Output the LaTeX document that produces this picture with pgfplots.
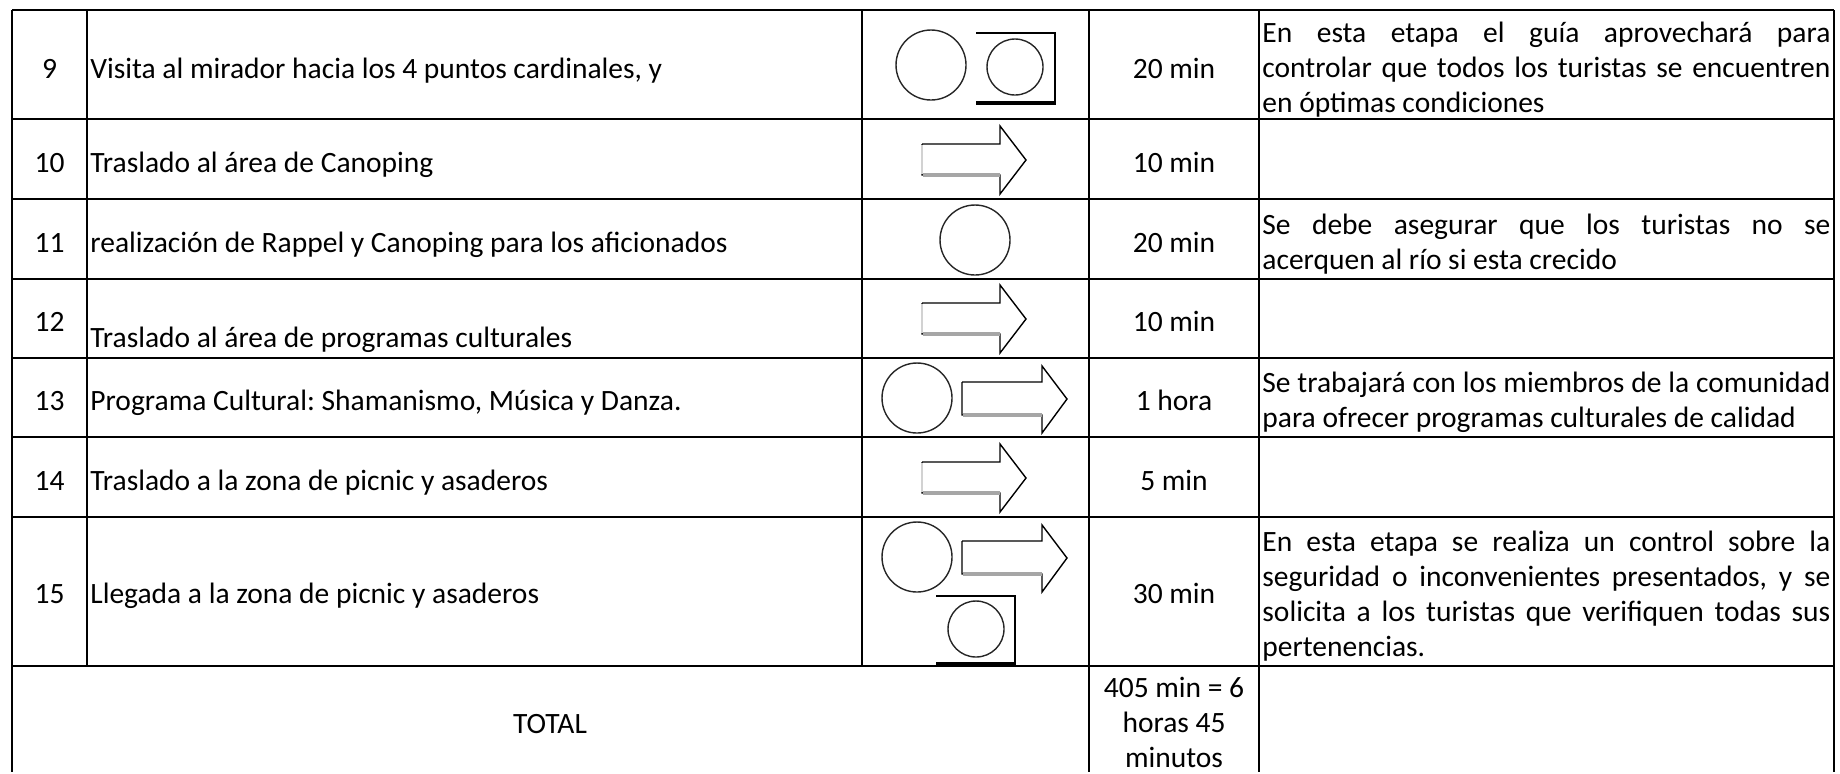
\documentclass[border=0pt]{standalone}
\usepackage{fontspec}
\setmainfont{Carlito}
\usepackage{pgfplots}
\pgfplotsset{compat=1.18}
\frenchspacing
\newcommand{\tf}{\fontsize{14.75pt}{17.5pt}\selectfont\frenchspacing}
\tikzset{t/.style={inner sep=0pt, font=\tf, anchor=base},
         tl/.style={inner sep=0pt, font=\tf, anchor=base west}}
\newcommand{\jl}[1]{\makebox[284pt][s]{#1}}
\begin{document}
\begin{tikzpicture}
\begin{axis}[
  width=920pt, height=386pt, scale only axis,
  xmin=0, xmax=1840, ymin=0, ymax=772, y dir=reverse,
  hide axis, clip=false,
]
% bounding box
\addplot[draw=none, forget plot] coordinates {(0,0) (1840,772)};
% ---------- grid lines ----------
\pgfplotsset{every axis plot/.append style={forget plot}}
\addplot[black, line width=1pt] coordinates {(12,10) (1834,10)};
\addplot[black, line width=1pt] coordinates {(12,119) (1834,119)};
\addplot[black, line width=1pt] coordinates {(12,199) (1834,199)};
\addplot[black, line width=1pt] coordinates {(12,279) (1834,279)};
\addplot[black, line width=1pt] coordinates {(12,358) (1834,358)};
\addplot[black, line width=1pt] coordinates {(12,437) (1834,437)};
\addplot[black, line width=1pt] coordinates {(12,517) (1834,517)};
\addplot[black, line width=1pt] coordinates {(12,666) (1834,666)};
\addplot[black, line width=1pt] coordinates {(12,10) (12,772)};
\addplot[black, line width=1pt] coordinates {(87,10) (87,666)};
\addplot[black, line width=1pt] coordinates {(862,10) (862,666)};
\addplot[black, line width=1pt] coordinates {(1089,10) (1089,772)};
\addplot[black, line width=1pt] coordinates {(1259,10) (1259,772)};
\addplot[black, line width=1pt] coordinates {(1834,10) (1834,772)};
% ---------- circles ----------
\addplot[only marks, mark=o, mark size=17.5pt, mark options={solid, black!85, line width=0.7pt}]
  coordinates {(931,65) (975,240) (917,398) (917,557)};
\addplot[only marks, mark=o, mark size=14pt, mark options={solid, black!85, line width=0.7pt}]
  coordinates {(1015,67) (976,629)};
% ---------- boxes around small circles ----------
\addplot[black, line width=0.8pt] coordinates {(976,33) (1055,33) (1055,103)};
\addplot[black, line width=1.6pt] coordinates {(976,103) (1056,103)};
\addplot[black, line width=0.8pt] coordinates {(936,596) (1015,596) (1015,664)};
\addplot[black, line width=1.6pt] coordinates {(936,664) (1016,664)};
% ---------- arrows (short) ----------
\addplot[black, line width=0.7pt] coordinates {(922,144) (1000,144) (1000,126) (1026,160) (1000,194) (1000,175) (922,175) (922,144)};
\addplot[gray!70, line width=1.6pt] coordinates {(923,175) (1000,175)};
\addplot[gray!35, line width=1pt] coordinates {(922,145) (922,174)};
\addplot[black, line width=0.7pt] coordinates {(922,303) (1000,303) (1000,285) (1026,319) (1000,353) (1000,334) (922,334) (922,303)};
\addplot[gray!70, line width=1.6pt] coordinates {(923,334) (1000,334)};
\addplot[gray!35, line width=1pt] coordinates {(922,304) (922,333)};
\addplot[black, line width=0.7pt] coordinates {(922,462) (1000,462) (1000,444) (1026,478) (1000,512) (1000,493) (922,493) (922,462)};
\addplot[gray!70, line width=1.6pt] coordinates {(923,493) (1000,493)};
\addplot[gray!35, line width=1pt] coordinates {(922,463) (922,492)};
% ---------- arrows (with circle) ----------
\addplot[black, line width=0.7pt] coordinates {(962,382) (1042,382) (1042,366) (1067,399) (1042,433) (1042,415) (962,415) (962,382)};
\addplot[gray!70, line width=1.6pt] coordinates {(963,415) (1042,415)};
\addplot[black, line width=0.7pt] coordinates {(962,541) (1042,541) (1042,525) (1067,558) (1042,592) (1042,574) (962,574) (962,541)};
\addplot[gray!70, line width=1.6pt] coordinates {(963,574) (1042,574)};
% ---------- column 1: numbers ----------
\node[t] at (axis cs:49.5,78) {9};
\node[t] at (axis cs:49.5,172) {10};
\node[t] at (axis cs:49.5,252) {11};
\node[t] at (axis cs:49.5,331) {12};
\node[t] at (axis cs:49.5,410) {13};
\node[t] at (axis cs:49.5,490) {14};
\node[t] at (axis cs:49.5,603) {15};
% ---------- column 2: descriptions ----------
\node[tl] at (axis cs:90,78) {Visita al mirador hacia los 4 puntos cardinales, y};
\node[tl] at (axis cs:90,172) {Traslado al área de Canoping};
\node[tl] at (axis cs:90,252) {realización de Rappel y Canoping para los aficionados};
\node[tl] at (axis cs:90,347) {Traslado al área de programas culturales};
\node[tl] at (axis cs:90,410) {Programa Cultural: Shamanismo, Música y Danza.};
\node[tl] at (axis cs:90,490) {Traslado a la zona de picnic y asaderos};
\node[tl] at (axis cs:90,603) {Llegada a la zona de picnic y asaderos};
\node[t] at (axis cs:550,733) {TOTAL};
% ---------- column 4: times ----------
\node[t] at (axis cs:1174,78) {20 min};
\node[t] at (axis cs:1174,172) {10 min};
\node[t] at (axis cs:1174,252) {20 min};
\node[t] at (axis cs:1174,331) {10 min};
\node[t] at (axis cs:1174,410) {1 hora};
\node[t] at (axis cs:1174,490) {5 min};
\node[t] at (axis cs:1174,603) {30 min};
\node[t] at (axis cs:1174,697) {405 min = 6};
\node[t] at (axis cs:1174,732) {horas 45};
\node[t] at (axis cs:1174,767) {minutos};
% ---------- column 5: notes ----------
\node[tl] at (axis cs:1262,42) {\jl{En esta etapa el guía aprovechará para}};
\node[tl] at (axis cs:1262,77) {\jl{controlar que todos los turistas se encuentren}};
\node[tl] at (axis cs:1262,112) {en óptimas condiciones};
\node[tl] at (axis cs:1262,234) {\jl{Se debe asegurar que los turistas no se}};
\node[tl] at (axis cs:1262,269) {acerquen al río si esta crecido};
\node[tl] at (axis cs:1262,392) {\jl{Se trabajará con los miembros de la comunidad}};
\node[tl] at (axis cs:1262,427) {para ofrecer programas culturales de calidad};
\node[tl] at (axis cs:1262,551.5) {\jl{En esta etapa se realiza un control sobre la}};
\node[tl] at (axis cs:1262,586.5) {\jl{seguridad o inconvenientes presentados, y se}};
\node[tl] at (axis cs:1262,621.5) {\jl{solicita a los turistas que verifiquen todas sus}};
\node[tl] at (axis cs:1262,656.5) {pertenencias.};
\end{axis}
\end{tikzpicture}
\end{document}
